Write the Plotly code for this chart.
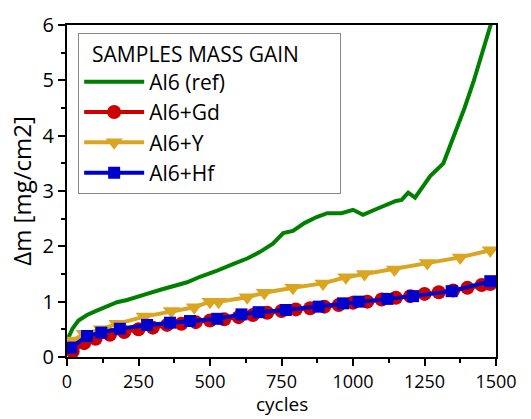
import plotly.graph_objects as go

# Al6 (ref)
ref_x = [0, 20, 40, 70, 100, 140, 175, 210, 250, 285, 330, 372, 420, 465, 520, 580, 630, 675, 720, 756, 790, 830, 873, 910, 960, 1000, 1035, 1080, 1120, 1150, 1170, 1193, 1217, 1245, 1270, 1316, 1350, 1390, 1421, 1450, 1490]
ref_y = [0.3, 0.52, 0.66, 0.76, 0.83, 0.92, 0.99, 1.03, 1.1, 1.15, 1.22, 1.28, 1.35, 1.45, 1.55, 1.68, 1.78, 1.9, 2.05, 2.24, 2.28, 2.42, 2.53, 2.6, 2.6, 2.66, 2.57, 2.67, 2.76, 2.82, 2.84, 2.97, 2.88, 3.1, 3.27, 3.5, 3.95, 4.5, 4.97, 5.47, 6.15]

# Al6+Gd
gd_x = [20, 60, 100, 150, 200, 250, 300, 350, 400, 450, 500, 550, 600, 650, 700, 750, 800, 850, 900, 950, 1000, 1050, 1100, 1150, 1200, 1250, 1300, 1350, 1400, 1450, 1480]
gd_y = [0.1, 0.25, 0.33, 0.4, 0.45, 0.5, 0.53, 0.58, 0.6, 0.63, 0.66, 0.68, 0.72, 0.76, 0.8, 0.83, 0.86, 0.88, 0.91, 0.94, 0.98, 1.0, 1.04, 1.07, 1.1, 1.14, 1.17, 1.2, 1.25, 1.3, 1.32]

# Al6+Y
y_x = [20, 60, 120, 175, 270, 365, 445, 500, 530, 630, 690, 790, 895, 975, 1040, 1145, 1260, 1375, 1480]
y_y = [0.3, 0.42, 0.5, 0.6, 0.73, 0.83, 0.9, 1.0, 1.0, 1.08, 1.16, 1.25, 1.33, 1.44, 1.5, 1.58, 1.7, 1.8, 1.93]

# Al6+Hf
hf_x = [15, 70, 120, 185, 280, 360, 430, 525, 610, 670, 765, 880, 965, 1020, 1120, 1210, 1345, 1480]
hf_y = [0.17, 0.38, 0.44, 0.51, 0.58, 0.62, 0.65, 0.69, 0.77, 0.81, 0.85, 0.91, 0.97, 1.0, 1.05, 1.1, 1.19, 1.37]

FONT = "Open Sans"
NB = "\u00a0"

fig = go.Figure()
fig.add_trace(go.Scatter(x=ref_x, y=ref_y, mode="lines", name="Al6 (ref)",
                         line=dict(color="#008000", width=4)))
fig.add_trace(go.Scatter(x=gd_x, y=gd_y, mode="lines+markers", name="Al6+Gd",
                         line=dict(color="#CC0000", width=4),
                         marker=dict(symbol="circle", size=14, color="#CC0000")))
fig.add_trace(go.Scatter(x=y_x, y=y_y, mode="lines+markers", name="Al6+Y",
                         line=dict(color="#DAA520", width=4),
                         marker=dict(symbol="triangle-down", size=15, color="#DAA520")))
fig.add_trace(go.Scatter(x=hf_x, y=hf_y, mode="lines+markers", name="Al6+Hf",
                         line=dict(color="#0000CC", width=4),
                         marker=dict(symbol="square", size=12, color="#0000CC")))

fig.update_layout(
    width=531, height=419,
    margin=dict(l=67, r=35, t=25, b=62),
    paper_bgcolor="white", plot_bgcolor="white",
    font=dict(family=FONT, size=20, color="black"),
    showlegend=True,
    legend=dict(
        title=dict(text=NB * 2 + "SAMPLES MASS GAIN" + NB * 3
                   + "<span style='color:white'>....</span>", font=dict(size=21)),
        x=0.026, y=0.975, xanchor="left", yanchor="top",
        bgcolor="white", bordercolor="#888888", borderwidth=1,
        font=dict(size=21), itemwidth=60, tracegroupgap=0,
    ),
    annotations=[dict(text="cycles", xref="paper", yref="paper", x=0.5, y=-0.1867,
                      xanchor="center", yanchor="bottom", showarrow=False,
                      font=dict(size=19))],
)
fig.update_xaxes(
    range=[0, 1500], tickvals=[0, 250, 500, 750, 1000, 1250, 1500],
    tickfont=dict(size=18),
    ticks="outside", ticklen=7, tickwidth=1.5, tickcolor="black",
    minor=dict(ticks="outside", ticklen=4, tickwidth=1.5, tickcolor="black", dtick=125),
    showline=True, linecolor="black", linewidth=2, mirror=True,
    showgrid=False, zeroline=False, automargin=False,
)
fig.update_yaxes(
    range=[0, 6], tickvals=[0, 1, 2, 3, 4, 5, 6],
    ticks="outside", ticklen=7, tickwidth=1.5, tickcolor="black",
    minor=dict(ticks="outside", ticklen=4, tickwidth=1.5, tickcolor="black", dtick=0.5),
    showline=True, linecolor="black", linewidth=2, mirror=True,
    showgrid=False, zeroline=False, automargin=False,
    title=dict(text="Δm [mg/cm2]", standoff=4),
)
fig.write_html("out.html")
